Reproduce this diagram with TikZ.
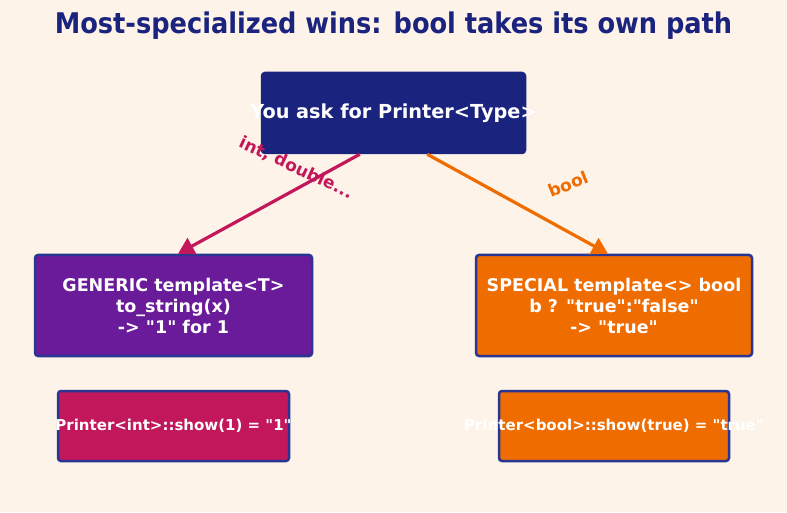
\documentclass[tikz,border=0pt]{standalone}
\usepackage{fontspec}
\setmainfont{DejaVu Sans}[Ligatures=TeXOff]
\newfontfamily\condfont{DejaVu Sans Condensed}
\usetikzlibrary{arrows.meta,calc}
\definecolor{bg}{HTML}{FEF3E8}
\definecolor{navy}{HTML}{1A237E}
\definecolor{edge}{HTML}{283593}
\definecolor{purp}{HTML}{6A1B9A}
\definecolor{pink}{HTML}{C2185B}
\definecolor{orng}{HTML}{EF6C00}
\tikzset{
  box/.style={rectangle, rounded corners=3pt, inner sep=0pt, draw=edge, line width=2.5pt},
  boxtext/.style={text=white, font=\bfseries, align=center, inner sep=0pt},
  conn/.style={line width=3.2pt, -{Triangle[length=16pt,width=18pt]}},
  lbl/.style={font=\bfseries\fontsize{17}{20}\selectfont, inner sep=0pt}
}
\begin{document}
\begin{tikzpicture}[x=1pt,y=1pt]
\fill[bg] (0,0) rectangle (787,512);
\useasboundingbox (0,0) rectangle (787,512);
\node[text=navy, font=\condfont\bfseries\fontsize{28.5}{32}\selectfont] (title) at (393.5,486) {Most-specialized wins: bool takes its own path};
% boxes
\node[box, fill=navy, draw=navy, minimum width=263pt, minimum height=80pt] (top) at (393.5,399) {};
\node[box, fill=purp, minimum width=277pt, minimum height=101pt] (left) at (173.5,206.5) {};
\node[box, fill=orng, minimum width=276pt, minimum height=101pt] (right) at (614,206.5) {};
\node[box, fill=pink, minimum width=231pt, minimum height=70pt] (bl) at (173.5,86) {};
\node[box, fill=orng, minimum width=230pt, minimum height=70pt] (br) at (614,86) {};
% texts
\node[boxtext, font=\bfseries\fontsize{19.3}{22}\selectfont] (toptext) at (top) {You ask for Printer<Type>};
\node[boxtext, font=\bfseries\fontsize{17.5}{21}\selectfont] (lefttext) at (left) {GENERIC template<T>\\to\_string(x)\\-> "1" for 1};
\node[boxtext, font=\bfseries\fontsize{17.5}{21}\selectfont] (righttext) at (right) {SPECIAL template<> bool\\b ? "true":"false"\\-> "true"};
\node[boxtext, font=\bfseries\fontsize{15}{18}\selectfont] (bltext) at (bl) {Printer<int>::show(1) = "1"};
\node[boxtext, font=\bfseries\fontsize{15}{18}\selectfont] (brtext) at (br) {Printer<bool>::show(true) = "true"};
% connectors
\draw[conn, pink] ($(top.south west)!0.373!(top.south east)$) -- ($(left.north)+(4.5,0)$);
\draw[conn, orng] ($(top.south west)!0.627!(top.south east)$) -- ($(right.north)+(-6,0)$);
\node[lbl, text=pink, rotate=-25] (l1) at (296,344) {int, double...};
\node[lbl, text=orng, rotate=22] (l2) at (568,328) {bool};
\end{tikzpicture}
\end{document}
